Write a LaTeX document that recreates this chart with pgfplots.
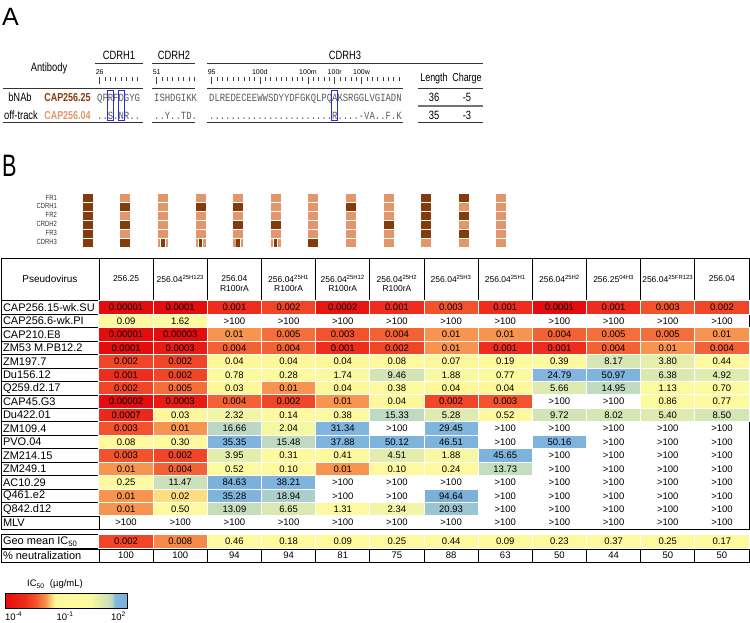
\documentclass[border=0pt]{standalone}
\usepackage{pgfplots}
\pgfplotsset{compat=1.18}
\usepackage{pgfplotstable}
\usepackage{graphicx}
\usepackage{fontspec}
\setmainfont{Liberation Sans}
\newfontfamily\narrow[FakeStretch=0.78]{Liberation Sans}
\newfontfamily\seqfont[FakeStretch=0.81]{Liberation Mono}
\definecolor{brdark}{RGB}{132,60,12}
\definecolor{brlight}{RGB}{226,150,108}
\definecolor{seqgray}{RGB}{90,90,90}
\definecolor{boxblue}{RGB}{45,45,215}

\pgfplotsset{colormap={ic50}{rgb255(0pt)=(228,12,12); rgb255(10pt)=(238,45,30); rgb255(15pt)=(242,85,45); rgb255(20pt)=(247,148,80); rgb255(22.5pt)=(252,212,122); rgb255(24.5pt)=(255,248,155); rgb255(42pt)=(252,250,160); rgb255(46pt)=(228,238,172); rgb255(50pt)=(210,228,182); rgb255(52.5pt)=(185,214,198); rgb255(53.8pt)=(130,182,222); rgb255(60pt)=(122,176,218)}}

\pgfdeclareplotmark{cell}{\pgfpathrectangle{\pgfpoint{-27.085pt}{-6.725pt}}{\pgfpoint{54.17pt}{13.45pt}}\pgfusepathqfillstroke}
\pgfdeclareplotmark{seg}{\pgfpathrectangle{\pgfpoint{-5pt}{-4.2pt}}{\pgfpoint{10pt}{8.4pt}}\pgfusepathqfill}
\pgfdeclareplotmark{stripe}{\pgfsetfillcolor{white}\pgfpathrectangle{\pgfpoint{-2.6pt}{-4.2pt}}{\pgfpoint{5.2pt}{8.4pt}}\pgfusepathqfill\pgfsetfillcolor{brdark}\pgfpathrectangle{\pgfpoint{-1.7pt}{-4.2pt}}{\pgfpoint{3.4pt}{8.4pt}}\pgfusepathqfill}

% IC50 values (ug/mL); 1000 stands for ">100" (not neutralized)
\pgfplotstableread[col sep=comma]{
virus,c1,c2,c3,c4,c5,c6,c7,c8,c9,c10,c11,c12
CAP256.15-wk.SU,0.00001,0.0001,0.001,0.002,0.0002,0.001,0.003,0.001,0.0001,0.001,0.003,0.002
CAP256.6-wk.PI,0.09,1.62,1000,1000,1000,1000,1000,1000,1000,1000,1000,1000
CAP210.E8,0.00001,0.00003,0.01,0.005,0.003,0.004,0.01,0.01,0.004,0.005,0.005,0.01
ZM53 M.PB12.2,0.0001,0.0003,0.004,0.004,0.001,0.002,0.01,0.001,0.001,0.004,0.01,0.004
ZM197.7,0.002,0.002,0.04,0.04,0.04,0.08,0.07,0.19,0.39,8.17,3.80,0.44
Du156.12,0.001,0.002,0.78,0.28,1.74,9.46,1.88,0.77,24.79,50.97,6.38,4.92
Q259.d2.17,0.002,0.005,0.03,0.01,0.04,0.38,0.04,0.04,5.66,14.95,1.13,0.70
CAP45.G3,0.00002,0.0003,0.004,0.002,0.01,0.04,0.002,0.003,1000,1000,0.86,0.77
Du422.01,0.0007,0.03,2.32,0.14,0.38,15.33,5.28,0.52,9.72,8.02,5.40,8.50
ZM109.4,0.003,0.01,16.66,2.04,31.34,1000,29.45,1000,1000,1000,1000,1000
PVO.04,0.08,0.30,35.35,15.48,37.88,50.12,46.51,1000,50.16,1000,1000,1000
ZM214.15,0.003,0.002,3.95,0.31,0.41,4.51,1.88,45.65,1000,1000,1000,1000
ZM249.1,0.01,0.004,0.52,0.10,0.01,0.10,0.24,13.73,1000,1000,1000,1000
AC10.29,0.25,11.47,84.63,38.21,1000,1000,1000,1000,1000,1000,1000,1000
Q461.e2,0.01,0.02,35.28,18.94,1000,1000,94.64,1000,1000,1000,1000,1000
Q842.d12,0.01,0.50,13.09,6.65,1.31,2.34,20.93,1000,1000,1000,1000,1000
MLV,1000,1000,1000,1000,1000,1000,1000,1000,1000,1000,1000,1000
}\ictab

\pgfplotstableread{
k g p
1 0.002 100
2 0.008 100
3 0.46 94
4 0.18 94
5 0.09 81
6 0.25 75
7 0.44 88
8 0.09 63
9 0.23 50
10 0.37 44
11 0.25 50
12 0.17 50
}\geotab

% 1 = region from CAP256.25, 0 = region from CAP256.04 (rows FR1..CDRH3)
\pgfplotstableread{
c1 c2 c3 c4 c5 c6 c7 c8 c9 c10 c11 c12
1 0 0 0 0 0 0 0 0 1 1 0
1 1 0 1 1 0 0 1 0 1 0 0
1 0 0 0 0 0 0 0 0 1 1 0
1 1 0 0 1 1 0 0 1 1 0 0
1 0 0 0 0 0 0 0 0 1 1 0
1 1 0 0 0 0 1 0 0 0 0 0
}\origtab

\newcommand\icfmt[1]{\ifnum\strcmp{#1}{1000}=0 {>}100\else#1\fi}

\begin{document}
\begin{tikzpicture}
\useasboundingbox (0pt,0pt) rectangle (750pt,-622pt);
\begin{scope}[x=1pt,y=-1pt]
% ---------- Panel A ----------
\node[anchor=base west, inner sep=0, font=\fontsize{25}{25}\selectfont] at (2,25) {A};
\node[anchor=base, inner sep=0, font=\narrow\fontsize{12}{13}\selectfont] at (49,71.7) {Antibody};
\node[anchor=base, inner sep=0, font=\narrow\fontsize{12}{13}\selectfont] at (119,59) {CDRH1};
\node[anchor=base, inner sep=0, font=\narrow\fontsize{12}{13}\selectfont] at (174,59) {CDRH2};
\node[anchor=base, inner sep=0, font=\narrow\fontsize{12}{13}\selectfont] at (345,59) {CDRH3};
\node[anchor=base, inner sep=0, font=\narrow\fontsize{11.5}{13}\selectfont] at (434,81.7) {Length};
\node[anchor=base, inner sep=0, font=\narrow\fontsize{11.5}{13}\selectfont] at (467,81.7) {Charge};
\draw[line width=1pt, black!80] (95,63)--(143,63) (152,63)--(195,63) (207,63)--(483,63);
\draw[line width=1.1pt, black!80] (3,88.3)--(143,88.3) (152,88.3)--(195,88.3) (207,88.3)--(403,88.3) (418,88.3)--(483,88.3);
\draw[line width=1.1pt, black!80] (3,122.7)--(143,122.7) (152,122.7)--(195,122.7) (207,122.7)--(403,122.7) (418,122.7)--(483,122.7);
\draw[line width=1.8pt, black!55] (418,106)--(483,106);
\foreach \xo/\n in {97/7,154/7,209/35}{
  \foreach \i in {0,...,\n}{
    \draw[line width=0.5pt, black!75] ({\xo+(\i+0.5)*5.35},77.2) -- ({\xo+(\i+0.5)*5.35},80.7);
  }
}
\foreach \xo/\i in {97/0,154/0,209/0,209/9,209/18,209/23,209/28}{
  \draw[line width=0.5pt, black!75] ({\xo+(\i+0.5)*5.35},77) -- ({\xo+(\i+0.5)*5.35},84);
}
\foreach \xo/\i/\t in {97/0/26,154/0/51,209/0/95,209/9/100d,209/18/100m,209/23/100r,209/28/100w}{
  \node[anchor=base, inner sep=0, font=\fontsize{7}{7}\selectfont] at ({\xo+(\i+0.5)*5.35},74) {\t};
}
\node[anchor=base, inner sep=0, font=\narrow\fontsize{12}{13}\selectfont] at (20,101.7) {bNAb};
\node[anchor=base, inner sep=0, font=\narrow\fontsize{12}{13}\selectfont] at (21,119.3) {off-track};
\node[anchor=base, inner sep=0, font=\narrow\bfseries\fontsize{11.5}{13}\selectfont, text=brdark] at (67.5,101.7) {CAP256.25};
\node[anchor=base, inner sep=0, font=\narrow\bfseries\fontsize{11.5}{13}\selectfont, text=brlight] at (67.5,119.3) {CAP256.04};
\begin{scope}[every node/.style={anchor=base west, inner sep=0, font=\seqfont\fontsize{11}{12}\selectfont, text=seqgray}]
\node at (97,101.7) {QFRFDGYG};
\node at (154,101.7) {ISHDGIKK};
\node at (209,101.7) {DLREDECEEWWSDYYDFGKQLPQAKSRGGLVGIADN};
\node at (97,119.3) {..S.NR..};
\node at (154,119.3) {..Y..TD.};
\node at (209,119.3) {.......................R....-VA..F.K};
\end{scope}
\node[anchor=base, inner sep=0, font=\narrow\fontsize{12}{13}\selectfont] at (434,101.7) {36};
\node[anchor=base, inner sep=0, font=\narrow\fontsize{12}{13}\selectfont] at (467,101.7) {-5};
\node[anchor=base, inner sep=0, font=\narrow\fontsize{12}{13}\selectfont] at (434,119.3) {35};
\node[anchor=base, inner sep=0, font=\narrow\fontsize{12}{13}\selectfont] at (467,119.3) {-3};
\draw[boxblue, line width=0.9pt] (107.4,90) rectangle (113.4,120) (118.1,90) rectangle (124.1,120) (331.8,90) rectangle (337.7,120);
% ---------- Panel B ----------
\node[anchor=base west, inner sep=0] at (2,176.5) {\scalebox{0.7}[1]{\fontsize{31}{31}\selectfont B}};
\foreach \t/\y in {FR1/197.5,CDRH1/206.4,FR2/215.3,CRDH2/224.2,FR3/233.1,CDRH3/242}{
  \node[anchor=east, inner sep=0, font=\narrow\fontsize{7.5}{8}\selectfont, text=black!80] at (57,\y) {\t};
}
\end{scope}

% ---------- schematic of chimeric heavy chains ----------
\begin{axis}[at={(68.9pt,-193.7pt)}, anchor=north west, x=37.6pt, y=8.92pt, y dir=reverse,
  xmin=0.5, xmax=12.5, ymin=0.5, ymax=6.5, hide axis, clip=false,
  colormap={orig}{rgb255=(226,150,108) rgb255=(132,60,12)},
  point meta min=0, point meta max=1]
\pgfplotsinvokeforeach{1,...,12}{
  \addplot[scatter, only marks, mark=seg, point meta=\thisrow{c#1},
    scatter/use mapped color={draw=none, fill=mapped color}]
    table[x expr=#1, y expr=\coordindex+1] {\origtab};
}
\addplot[only marks, mark=stripe] coordinates {(3,6) (4,6) (5,6) (6,6)};
\end{axis}

% ---------- IC50 table ----------
\begin{axis}[at={(1pt,-258pt)}, anchor=north west, x=54.17pt, y=13.45pt, y dir=reverse,
  xmin=-1.309, xmax=12.5, ymin=-3.68, ymax=18.92, clip=false,
  axis line style={draw=none}, xtick=\empty, ytick={0,...,16},
  yticklabels from table={\ictab}{virus},
  extra y ticks={17.4,18.45},
  extra y tick labels={Geo mean IC\textsubscript{50},\% neutralization},
  major tick length=0pt, tick style={draw=none},
  yticklabel style={anchor=west, xshift=-1.5pt, font=\fontsize{11}{12}\selectfont},
  colormap name=ic50, point meta min=-4, point meta max=2,
  every node near coord/.append style={font=\fontsize{9.5}{10}\selectfont, inner sep=0pt, text=black},
  nodes near coords align={center}]
\pgfplotsinvokeforeach{1,...,12}{
  \addplot[scatter, only marks, mark=cell,
    scatter/use mapped color={draw=white, fill=mapped color, line width=1pt},
    point meta={max(-4,log10(\thisrow{c#1}))},
    restrict expr to domain={\thisrow{c#1}}{0:150}]
    table[x expr=#1, y expr=\coordindex] {\ictab};
  \addplot[only marks, mark=none, point meta=explicit symbolic,
    nodes near coords={\icfmt{\pgfplotspointmeta}}]
    table[x expr=#1, y expr=\coordindex, meta=c#1] {\ictab};
}
\addplot[scatter, only marks, mark=cell,
  scatter/use mapped color={draw=white, fill=mapped color, line width=1pt},
  point meta={max(-4,log10(\thisrow{g}))}]
  table[x=k, y expr=17.4] {\geotab};
\addplot[only marks, mark=none, point meta=explicit symbolic, nodes near coords]
  table[x=k, y expr=17.4, meta=g] {\geotab};
\addplot[only marks, mark=none, point meta=explicit symbolic, nodes near coords]
  table[x=k, y expr=18.45, meta=p] {\geotab};
% header
\begin{scope}[every node/.style={inner sep=0, font=\fontsize{8.5}{10}\selectfont}]
\node[font=\fontsize{10}{11}\selectfont] at (axis cs:-0.405,-2.12) {Pseudovirus};
\node at (axis cs:1,-2.12) {256.25};
\node at (axis cs:2,-2.12) {256.04\textsuperscript{25H123}};
\node at (axis cs:3,-2.12) {256.04};
\node at (axis cs:3,-1.38) {R100rA};
\node at (axis cs:4,-2.12) {256.04\textsuperscript{25H1}};
\node at (axis cs:4,-1.38) {R100rA};
\node at (axis cs:5,-2.12) {256.04\textsuperscript{25H12}};
\node at (axis cs:5,-1.38) {R100rA};
\node at (axis cs:6,-2.12) {256.04\textsuperscript{25H2}};
\node at (axis cs:6,-1.38) {R100rA};
\node at (axis cs:7,-2.12) {256.04\textsuperscript{25H3}};
\node at (axis cs:8,-2.12) {256.04\textsuperscript{25H1}};
\node at (axis cs:9,-2.12) {256.04\textsuperscript{25H2}};
\node at (axis cs:10,-2.12) {256.25\textsuperscript{04H3}};
\node at (axis cs:11,-2.12) {256.04\textsuperscript{25FR123}};
\node at (axis cs:12,-2.12) {256.04};
\end{scope}
% borders
\draw[line width=0.8pt] (axis cs:-1.309,-3.68) rectangle (axis cs:12.5,16.5);
\draw[line width=0.8pt] (axis cs:-1.309,-0.5) -- (axis cs:12.5,-0.5);
\draw[line width=0.8pt] (axis cs:0.5,-3.68) -- (axis cs:0.5,16.5);
\pgfplotsinvokeforeach{1.5,2.5,...,11.5}{
  \draw[line width=0.8pt] (axis cs:#1,-3.68) -- (axis cs:#1,-0.5);
  \draw[line width=0.8pt] (axis cs:#1,17.98) -- (axis cs:#1,18.92);
}
\pgfplotsinvokeforeach{0.5,1.5,...,15.5}{
  \draw[line width=0.8pt] (axis cs:-1.309,#1) -- (axis cs:0.5,#1);
}
\draw[line width=0.8pt] (axis cs:-1.309,16.9) rectangle (axis cs:12.5,17.9);
\draw[line width=0.8pt] (axis cs:0.5,16.9) -- (axis cs:0.5,17.9);
\draw[line width=0.8pt] (axis cs:-1.309,17.98) rectangle (axis cs:12.5,18.92);
\draw[line width=0.8pt] (axis cs:0.5,17.98) -- (axis cs:0.5,18.92);
\end{axis}

% ---------- colour bar ----------
\begin{axis}[at={(5pt,-584.4pt)}, anchor=north west, scale only axis, width=122.7pt, height=15.6pt,
  hide axis, xmin=0, xmax=1, ymin=0, ymax=1,
  colormap name=ic50, point meta min=-4, point meta max=2,
  colorbar horizontal,
  colorbar style={at={(parent axis.north west)}, anchor=north west, width=122.7pt, height=15.6pt,
    scale only axis, xtick=\empty}]
\addplot[draw=none] coordinates {(0,0)};
\end{axis}

\begin{scope}[x=1pt,y=-1pt]
\node[font=\fontsize{9.5}{10}\selectfont] at (55,584) {IC\textsubscript{50}\ \ (µg/mL)};
\node[anchor=base west, inner sep=0, font=\fontsize{9.5}{10}\selectfont] at (5,620) {10\textsuperscript{-4}};
\node[anchor=base, inner sep=0, font=\fontsize{9.5}{10}\selectfont] at (65,620) {10\textsuperscript{-1}};
\node[anchor=base east, inner sep=0, font=\fontsize{9.5}{10}\selectfont] at (126,620) {10\textsuperscript{2}};
\end{scope}
\end{tikzpicture}
\end{document}
